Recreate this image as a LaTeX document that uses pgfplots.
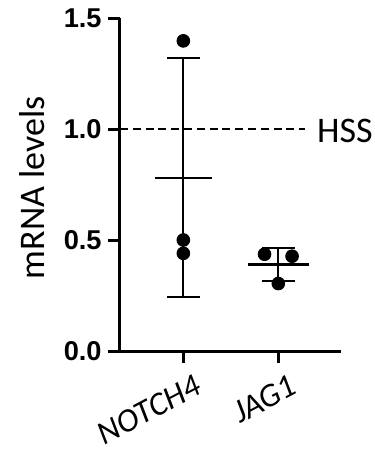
\documentclass[border=0pt]{standalone}
\usepackage{fontspec}
\setmainfont{Carlito}
\newfontfamily\libsans{Liberation Sans}
\newcommand\tl[1]{{\libsans\bfseries\fontsize{13.6}{15}\selectfont #1}}
\usepackage{pgfplots}
\pgfplotsset{compat=1.18}
\begin{document}
\begin{tikzpicture}
\path[use as bounding box] (-60pt,-52.5pt) rectangle (127.5pt,175.5pt);
\begin{axis}[
  scale only axis,
  width=110.5pt, height=166.5pt,
  xmin=-0.667, xmax=1.66,
  ymin=0, ymax=1.5,
  axis x line*=bottom, axis y line*=left,
  axis line style={line width=1.5pt, -},
  every tick/.style={black, line width=1.5pt},
  tick align=outside,
  major tick length=6pt,
  xtick={0,1}, xticklabels={NOTCH4, JAG1},
  ytick={0,0.5,1,1.5}, yticklabels={\tl{0.0},\tl{0.5},\tl{1.0},\tl{1.5}},
  yticklabel style={inner sep=3pt},
  xticklabel style={font=\itshape\fontsize{16.5}{18}\selectfont, rotate=28, anchor=north east, inner sep=1pt, yshift=-6pt, xshift=3pt},
  ylabel={mRNA levels},
  ylabel style={font=\fontsize{18}{20}\selectfont, at={(axis description cs:-0.398,0.49)}, anchor=center},
  clip=false,
]
% x axis extension to the left
\draw[line width=1.5pt] (axis cs:-0.667,0) ++(-6.75pt,0) -- (axis cs:1.66,0);
% HSS reference line
\addplot[black, line width=0.6pt, dash pattern=on 4pt off 2.4pt] coordinates {(-0.667,1.0) (1.28,1.0)};
\node[anchor=west, font=\fontsize{18}{20}\selectfont, inner sep=0pt] at (axis cs:1.405,0.99) {HSS};
% error bars (mean +- SD): NOTCH4
\addplot[black, line width=1pt] coordinates {(0,0.242) (0,1.318)};
\addplot[black, line width=1pt] coordinates {(-0.172,1.318) (0.172,1.318)};
\addplot[black, line width=1pt] coordinates {(-0.172,0.242) (0.172,0.242)};
% error bars: JAG1
\addplot[black, line width=1pt] coordinates {(1,0.316) (1,0.463)};
\addplot[black, line width=1pt] coordinates {(0.828,0.463) (1.172,0.463)};
\addplot[black, line width=1pt] coordinates {(0.828,0.316) (1.172,0.316)};
% mean lines
\addplot[black, line width=1.4pt] coordinates {(-0.30,0.779) (0.30,0.779)};
\addplot[black, line width=1.4pt] coordinates {(0.68,0.389) (1.32,0.389)};
% individual points
\addplot[only marks, mark=*, mark size=3.2pt, black] coordinates {
  (0,1.397) (0,0.500) (0,0.440)
  (0.855,0.436) (1.145,0.427) (1,0.304)};
\end{axis}
\end{tikzpicture}
\end{document}
